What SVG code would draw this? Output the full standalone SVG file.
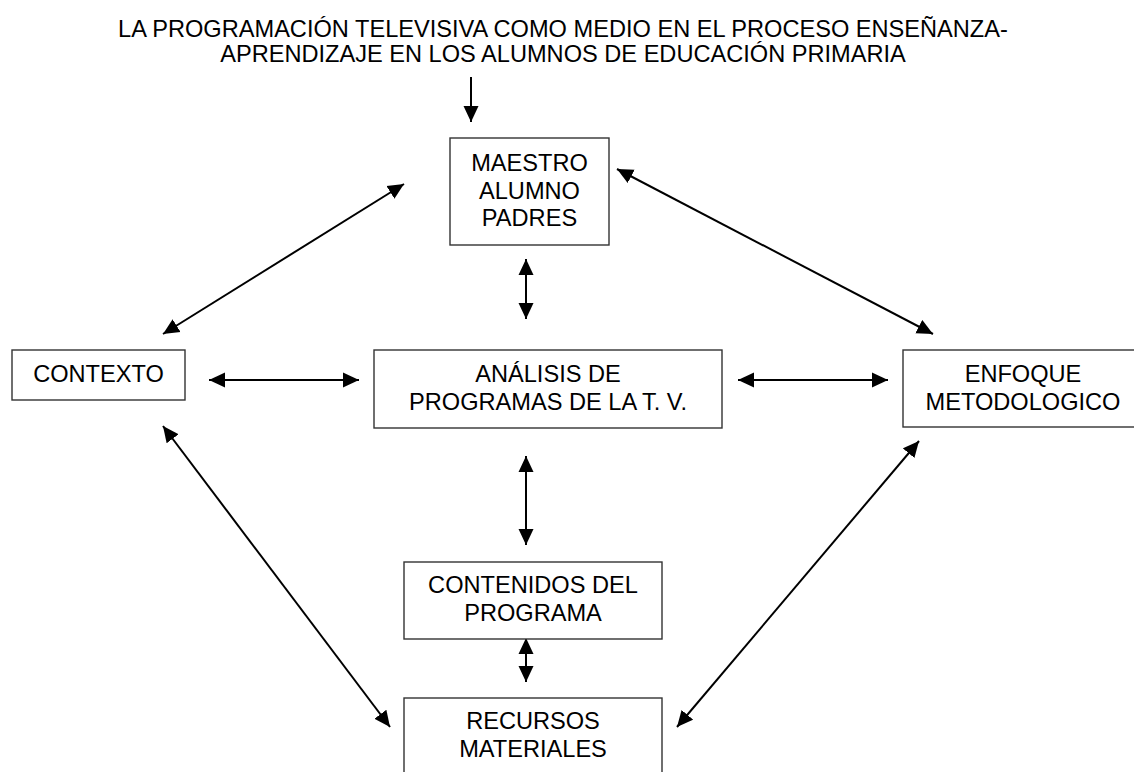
<svg xmlns="http://www.w3.org/2000/svg" width="1134" height="772" viewBox="0 0 1134 772">
<style>
.box{fill:#fff;stroke:#333;stroke-width:1.4}
.t{font-family:"Liberation Sans",Arial,sans-serif;font-size:23.6px;fill:#000;text-anchor:middle}
.c{stroke:#000;stroke-width:2;fill:none}
</style>
<defs>
<marker id="ah" viewBox="0 0 16 16" markerWidth="16" markerHeight="16" markerUnits="userSpaceOnUse" refX="16" refY="8" orient="auto-start-reverse">
<path d="M0,0.5 L16,8 L0,15.5 z" fill="#000"/>
</marker>
</defs>
<rect width="1134" height="772" fill="#fff"/>
<g id="title">
<text class="t" x="563" y="37">LA PROGRAMACIÓN TELEVISIVA COMO MEDIO EN EL PROCESO ENSEÑANZA-</text>
<text class="t" x="563" y="62">APRENDIZAJE EN LOS ALUMNOS DE EDUCACIÓN PRIMARIA</text>
</g>
<g id="connectors">
<line class="c" x1="471" y1="77" x2="471" y2="122" marker-end="url(#ah)"/>
<line class="c" x1="526" y1="259" x2="526" y2="319" marker-start="url(#ah)" marker-end="url(#ah)"/>
<line class="c" x1="163" y1="334" x2="404" y2="184" marker-start="url(#ah)" marker-end="url(#ah)"/>
<line class="c" x1="617" y1="169" x2="933" y2="334" marker-start="url(#ah)" marker-end="url(#ah)"/>
<line class="c" x1="209" y1="380" x2="359" y2="380" marker-start="url(#ah)" marker-end="url(#ah)"/>
<line class="c" x1="738" y1="380" x2="888" y2="380" marker-start="url(#ah)" marker-end="url(#ah)"/>
<line class="c" x1="526" y1="456" x2="526" y2="545" marker-start="url(#ah)" marker-end="url(#ah)"/>
<line class="c" x1="526" y1="638" x2="526" y2="682" marker-start="url(#ah)" marker-end="url(#ah)"/>
<line class="c" x1="163" y1="426" x2="390" y2="727" marker-start="url(#ah)" marker-end="url(#ah)"/>
<line class="c" x1="919" y1="441" x2="677" y2="727" marker-start="url(#ah)" marker-end="url(#ah)"/>
</g>
<g id="maestro">
<rect class="box" x="450" y="138" width="159" height="107"/>
<text class="t" x="529.5" y="171">MAESTRO</text>
<text class="t" x="529.5" y="199">ALUMNO</text>
<text class="t" x="529.5" y="226">PADRES</text>
</g>
<g id="contexto">
<rect class="box" x="12" y="350" width="173" height="50"/>
<text class="t" x="98.5" y="382">CONTEXTO</text>
</g>
<g id="analisis">
<rect class="box" x="374" y="350" width="348" height="78"/>
<text class="t" x="548" y="382">ANÁLISIS DE</text>
<text class="t" x="548" y="410">PROGRAMAS DE LA T. V.</text>
</g>
<g id="enfoque">
<rect class="box" x="903" y="350" width="240" height="77"/>
<text class="t" x="1023" y="382">ENFOQUE</text>
<text class="t" x="1023" y="410">METODOLOGICO</text>
</g>
<g id="contenidos">
<rect class="box" x="404" y="562" width="258" height="77"/>
<text class="t" x="533" y="593">CONTENIDOS DEL</text>
<text class="t" x="533" y="621">PROGRAMA</text>
</g>
<g id="recursos">
<rect class="box" x="404" y="698" width="258" height="100"/>
<text class="t" x="533" y="729">RECURSOS</text>
<text class="t" x="533" y="757">MATERIALES</text>
</g>
</svg>
